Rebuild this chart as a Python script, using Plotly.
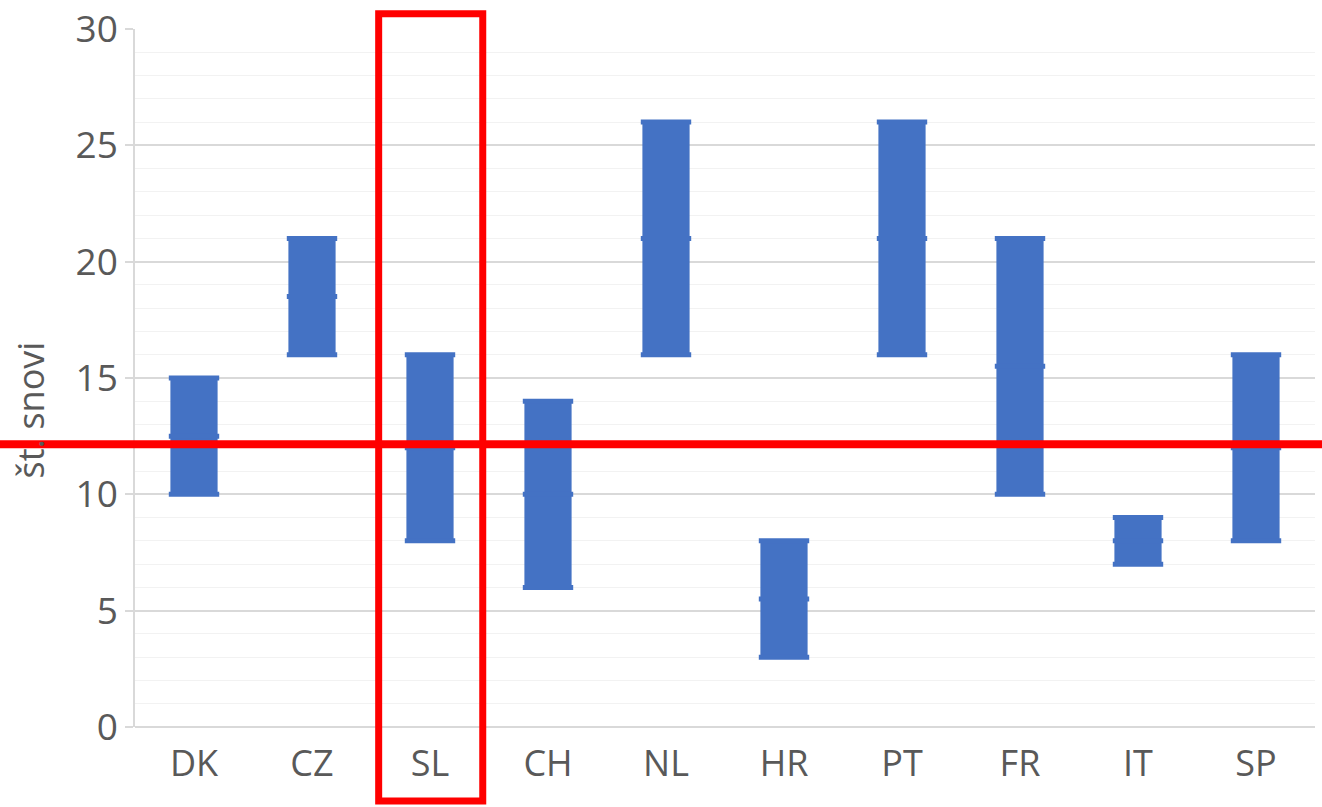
import plotly.graph_objects as go

# Ranges of number of substances per country (min, typical, max)
countries = ["DK", "CZ", "SL", "CH", "NL", "HR", "PT", "FR", "IT", "SP"]
low = [10, 16, 8, 6, 16, 3, 16, 10, 7, 8]
high = [15, 21, 16, 14, 26, 8, 26, 21, 9, 16]
mid = [12.5, 18.5, 12, 10, 21, 5.5, 21, 15.5, 8, 12]

reference_level = 12.15
highlight = "SL"

y_min, y_max = 0, 30
blue = "#4472C4"
grey_text = "#595959"
font_family = "Open Sans, Noto Sans, sans-serif"

fig = go.Figure()

# Range bars
fig.add_trace(go.Bar(
    x=countries,
    y=[h - l for h, l in zip(high, low)],
    base=low,
    width=0.4,
    marker=dict(color=blue, line=dict(width=0)),
    hoverinfo="skip",
    showlegend=False,
))

# Caps at the minimum, middle and maximum of each range
for vals in (low, mid, high):
    fig.add_trace(go.Scatter(
        x=countries,
        y=vals,
        mode="markers",
        marker=dict(symbol="line-ew", size=36, color=blue,
                    line=dict(width=5, color=blue)),
        hoverinfo="skip",
        showlegend=False,
    ))

# Horizontal reference line across the whole figure
ref_paper = (reference_level - y_min) / (y_max - y_min)
fig.add_shape(type="line", xref="paper", yref="paper",
              x0=-0.2, x1=1.1, y0=ref_paper, y1=ref_paper,
              line=dict(color="#FF0000", width=8), layer="above")

# Frame around the highlighted country
idx = countries.index(highlight)
n = len(countries)
fig.add_shape(type="rect", xref="paper", yref="paper",
              x0=(idx + 0.065) / n, x1=(idx + 0.947) / n,
              y0=-0.106, y1=1.022,
              line=dict(color="#FF0000", width=7), fillcolor="rgba(0,0,0,0)",
              layer="above")

# Rotated axis title
fig.add_annotation(
    text="št. snovi", xref="paper", yref="paper",
    x=-0.089, y=0.455, xanchor="center", yanchor="middle",
    textangle=-90, showarrow=False,
    font=dict(size=36, color=grey_text, family=font_family),
)

fig.update_layout(
    width=1322, height=807,
    margin=dict(l=135, r=7, t=29, b=80, autoexpand=False),
    paper_bgcolor="white",
    plot_bgcolor="white",
    font=dict(family=font_family, color=grey_text, size=36),
)

fig.update_xaxes(
    type="category",
    range=[-0.5, n - 0.5],
    showgrid=False,
    showline=False,
    ticks="",
    automargin=False,
    tickfont=dict(size=36, color=grey_text),
    ticklabelstandoff=12,
)

fig.update_yaxes(
    range=[y_min, y_max],
    dtick=5,
    tick0=0,
    automargin=False,
    showgrid=True,
    gridcolor="#d9d9d9",
    gridwidth=1.5,
    minor=dict(dtick=1, showgrid=True, gridcolor="#f2f2f2", gridwidth=1.2, ticks=""),
    showline=True,
    linecolor="#d9d9d9",
    linewidth=1.5,
    ticks="outside",
    ticklen=8,
    tickcolor="#d9d9d9",
    tickwidth=1.5,
    tickfont=dict(size=37, color=grey_text),
    zeroline=True,
    zerolinecolor="#d9d9d9",
    zerolinewidth=1.5,
)

fig.write_html("out.html")
